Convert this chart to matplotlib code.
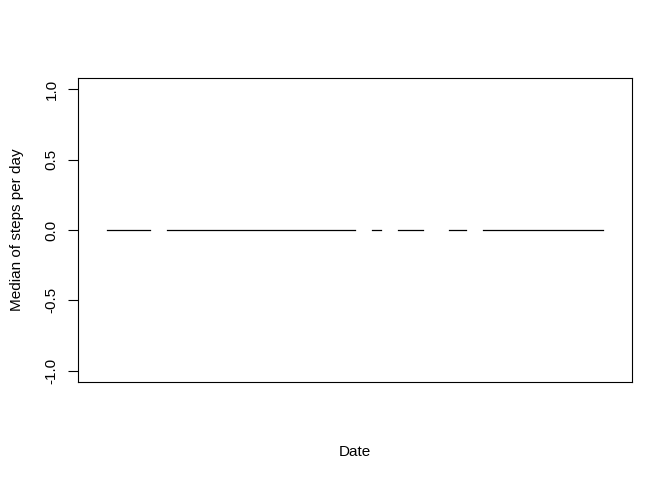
import matplotlib
matplotlib.use("Agg")
import matplotlib.pyplot as plt
import matplotlib.dates as mdates
import numpy as np
import pandas as pd

plt.rcParams['font.family'] = ['Liberation Sans', 'DejaVu Sans']

# days of the activity data set, Oct 1 - Nov 30 2012
dates = pd.date_range("2012-10-01", "2012-11-30", freq="D")
# days with no recorded steps (median is NA)
missing_days = ["2012-10-01", "2012-10-08", "2012-11-01", "2012-11-04",
                "2012-11-09", "2012-11-10", "2012-11-14", "2012-11-30"]
median_steps = [np.nan if d.strftime("%Y-%m-%d") in missing_days else 0.0 for d in dates]

fig = plt.figure(figsize=(6.72, 4.8), dpi=100)
ax = fig.add_axes([78 / 672, 98 / 480, 554 / 672, 304 / 480])

ax.plot(dates, median_steps, color="black", linewidth=0.9)

x0 = mdates.date2num(dates[0])
x1 = mdates.date2num(dates[-1])
span = x1 - x0
ax.set_xlim(x0 - 0.04 * span, x1 + 0.04 * span)
ax.set_ylim(-1.08, 1.08)

ax.set_xticks([])
yt = [-1.0, -0.5, 0.0, 0.5, 1.0]
ax.set_yticks(yt)
ax.set_yticklabels(["%.1f" % v for v in yt], rotation=90, va="center")
ax.tick_params(axis="y", length=7, width=0.8, pad=7, labelsize=11)

for s in ax.spines.values():
    s.set_linewidth(0.8)

ax.set_xlabel("Date", fontsize=11, labelpad=45)
ax.set_ylabel("Median of steps per day", fontsize=11, labelpad=15)

fig.savefig("out.png", dpi=100)
